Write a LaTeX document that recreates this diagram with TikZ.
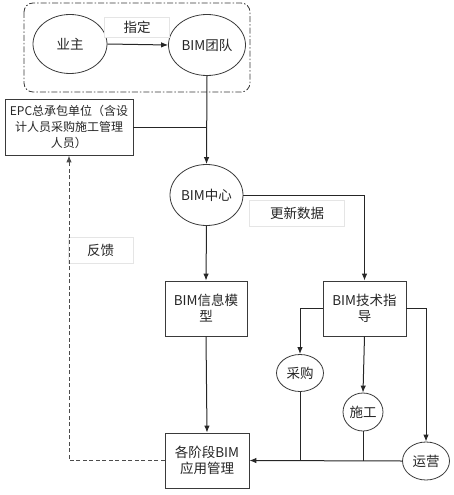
\documentclass[tikz,border=0pt]{standalone}
\usepackage{fontspec}
\setmainfont{Noto Sans CJK SC}
\usetikzlibrary{shapes.geometric,arrows.meta}
\definecolor{ln}{HTML}{262626}
\definecolor{bd}{HTML}{3A3A3A}
\tikzset{
  every node/.style={font=\fontsize{13.5}{16}\selectfont, text=black!85},
  ell/.style={ellipse, draw=bd, fill=white, line width=0.8pt, inner sep=0pt},
  boxnode/.style={rectangle, draw=bd, fill=white, line width=0.8pt, align=center, inner sep=0pt},
  lab/.style={rectangle, draw=black!10, fill=white, line width=0.6pt, inner sep=0pt},
  conn/.style={draw=ln, line width=1pt},
  arr/.style={conn, -{Latex[length=7pt,width=5.5pt]}},
}
\begin{document}
\begin{tikzpicture}[x=1pt,y=-1pt]
\useasboundingbox (0,0) rectangle (454,495);
\draw[bd, line width=0.8pt, rounded corners=9pt, dash pattern=on 6pt off 2pt on 1.5pt off 2pt] (24,3) rectangle (250,92);
\node[ell, minimum width=74pt, minimum height=59pt] (owner) at (70,44) {业主};
\node[ell, minimum width=77pt, minimum height=61pt] (team) at (207,45) {BIM团队};
\node[lab, minimum width=65pt, minimum height=20pt] (zd) at (137,27) {指定};
\node[boxnode, minimum width=128pt, minimum height=56pt, font=\fontsize{12}{16}\selectfont] (epc) at (69,127) {EPC总承包单位（含设\\计人员采购施工管理\\人员）};
\node[ell, minimum width=73pt, minimum height=61pt] (center) at (206.5,195) {BIM中心};
\node[lab, minimum width=95pt, minimum height=26pt] (upd) at (297,213) {更新数据};
\node[boxnode, minimum width=82pt, minimum height=55pt] (model) at (206,308.5) {BIM信息模\\型};
\node[boxnode, minimum width=83pt, minimum height=55pt] (tech) at (364.5,308.5) {BIM技术指\\导};
\node[ell, minimum width=47pt, minimum height=37pt] (cg) at (300,373) {采购};
\node[ell, minimum width=40pt, minimum height=38pt] (sg) at (363,412) {施工};
\node[ell, minimum width=47pt, minimum height=38pt] (yy) at (426,461) {运营};
\node[boxnode, minimum width=84pt, minimum height=55pt] (stage) at (207,460.5) {各阶段BIM\\应用管理};
\node[lab, minimum width=65pt, minimum height=26pt] (fk) at (100.5,250) {反馈};
% connectors
\draw[arr] (owner.east) -- (team.west);
\draw[arr] (team.south) -- (center.north);
\draw[conn] (epc.east) -- (epc.east -| team.south);
\draw[arr] (center.east) -| (tech.north);
\draw[arr] (center.south) -- (model.north);
\draw[arr] (tech.west) -| (cg.north);
\draw[arr] (tech.south) -- (sg.north);
\draw[arr] (tech.east) -| (yy.north);
\draw[arr] (model.south) -- (stage.north);
\draw[arr] (yy.west) -- (stage.east);
\draw[conn] (cg.south) -- (cg.south |- stage.east);
\draw[conn] (sg.south) -- (sg.south |- stage.east);
\draw[arr, draw=black!70, dash pattern=on 4pt off 2.5pt] (stage.west) -| (epc.south);
\end{tikzpicture}
\end{document}
